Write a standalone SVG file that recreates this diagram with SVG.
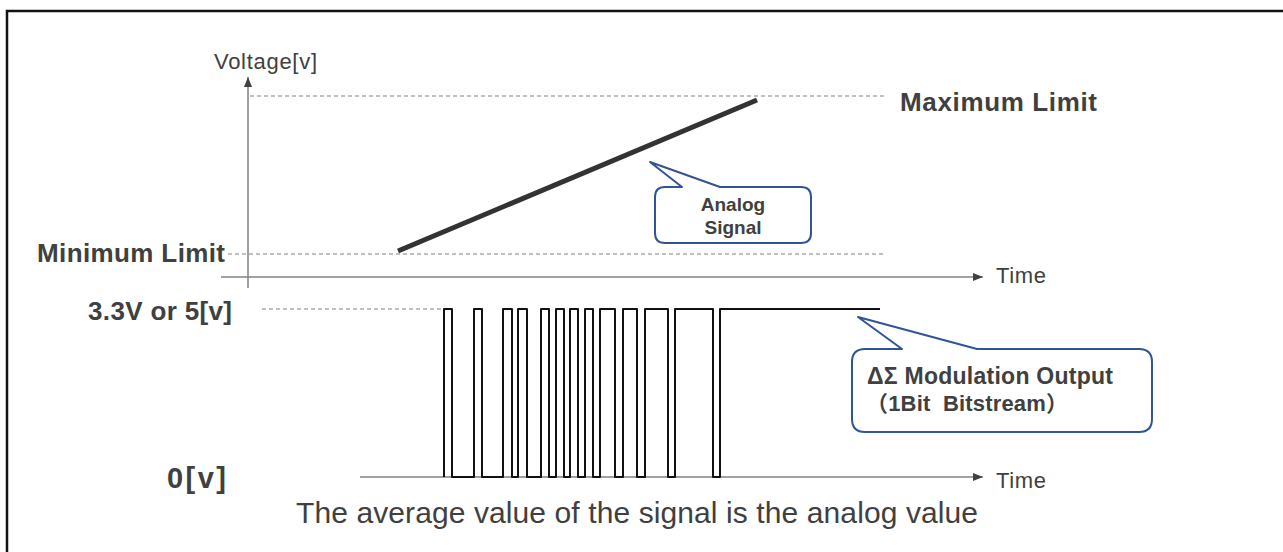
<svg xmlns="http://www.w3.org/2000/svg" width="1283" height="552" viewBox="0 0 1283 552">
<defs>
<marker id="arr" viewBox="0 0 10 10" refX="10" refY="5" markerWidth="10" markerHeight="10" markerUnits="userSpaceOnUse" orient="auto">
<path d="M0 1 L10 5 L0 9 Z" fill="#404040"/>
</marker>
<style>
.t{font-family:"Liberation Sans",Arial,"Noto Sans CJK JP",sans-serif;fill:#404040}
.b{font-weight:bold}
.dash{stroke:#808080;stroke-width:1;stroke-dasharray:4 3;fill:none}
.axis{stroke:#808080;stroke-width:1.5;fill:none}
.callout{fill:#fff;stroke:#2F5597;stroke-width:2;stroke-linejoin:round}
</style>
</defs>
<rect width="1283" height="552" fill="#fff"/>
<path d="M7 560 V11 H1290" fill="none" stroke="#111" stroke-width="2.5"/>

<g id="connectors">
<line class="axis" x1="248" y1="288" x2="248" y2="77" stroke="#404040" marker-end="url(#arr)"/>
<line class="axis" x1="221" y1="277" x2="983" y2="277" marker-end="url(#arr)"/>
<line class="axis" x1="360" y1="477" x2="983" y2="477" marker-end="url(#arr)"/>
<line class="dash" x1="250" y1="96" x2="885" y2="96"/>
<line class="dash" x1="228" y1="254" x2="885" y2="254"/>
<line class="dash" x1="262" y1="309" x2="443" y2="309"/>
</g>

<g id="analog-signal">
<line x1="398" y1="251" x2="757" y2="100" stroke="#333" stroke-width="5"/>
</g>

<g id="bitstream">
<path d="M444 477 V309 H452 V477 H474 V309 H482 V477 H503 V309 H512 V477 H518 V309 H527 V477 H541 V309 H549 V477 H556 V309 H564 V477 H570 V309 H578 V477 H585 V309 H593 V477 H600 V309 H615 V477 H623 V309 H637 V477 H645 V309 H668 V477 H675 V309 H713 V477 H720 V309 H880" fill="none" stroke="#111" stroke-width="2" stroke-linejoin="round"/>
</g>

<g id="analog-callout">
<path class="callout" d="M665 187 H682 L650 162 L720 187 H801 Q811 187 811 197 V233 Q811 243 801 243 H665 Q655 243 655 233 V197 Q655 187 665 187 Z"/>
<text class="t b" x="733" y="211" font-size="19" text-anchor="middle">Analog</text>
<text class="t b" x="733" y="234" font-size="19" text-anchor="middle">Signal</text>
</g>

<g id="bitstream-callout">
<path class="callout" d="M865 349 H902 L858 317 L977 349 H1139 Q1152 349 1152 362 V419 Q1152 432 1139 432 H865 Q852 432 852 419 V362 Q852 349 865 349 Z"/>
<text class="t b" x="867" y="384" font-size="23" textLength="246">ΔΣ Modulation Output</text>
<text class="t b" x="866" y="411" font-size="22" xml:space="preserve" textLength="202">（1Bit  Bitstream）</text>
</g>

<g id="labels">
<text class="t" x="214" y="69" font-size="22" textLength="103">Voltage[v]</text>
<text class="t b" x="900" y="111" font-size="26" textLength="197">Maximum Limit</text>
<text class="t b" x="37" y="262" font-size="26" textLength="188">Minimum Limit</text>
<text class="t b" x="88" y="320" font-size="26" textLength="144">3.3V or 5[v]</text>
<text class="t b" x="167" y="488" font-size="29" textLength="59">0[v]</text>
<text class="t" x="996" y="283" font-size="22" textLength="50">Time</text>
<text class="t" x="996" y="488" font-size="22" textLength="50">Time</text>
<text class="t" x="296" y="523" font-size="30" textLength="682">The average value of the signal is the analog value</text>
</g>
</svg>
